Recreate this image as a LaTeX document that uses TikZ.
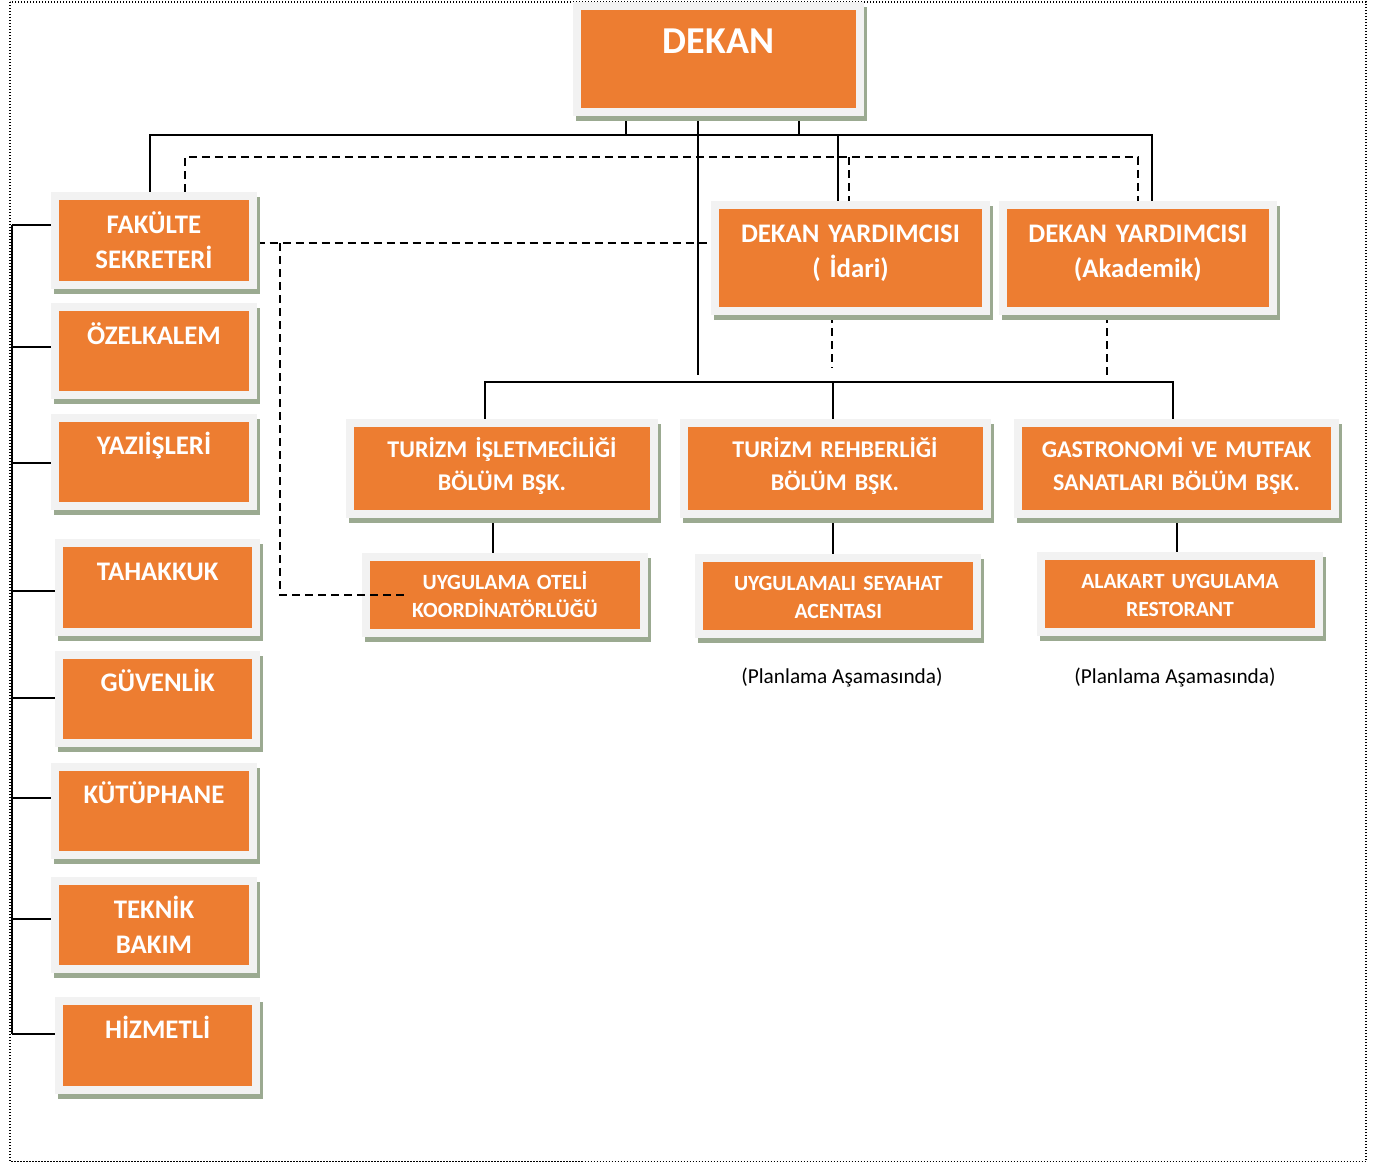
\documentclass[tikz,border=0pt]{standalone}
\usepackage{fontspec}
\setmainfont{Carlito}
\usetikzlibrary{backgrounds}
\definecolor{boxorange}{RGB}{237,125,49}
\definecolor{boxframe}{RGB}{242,242,242}
\definecolor{boxshadow}{RGB}{155,170,145}

\begin{document}
\begin{tikzpicture}[x=1pt, y=-1pt,
  orgbox/.style={rectangle, fill=boxorange, draw=boxframe, line width=8pt, inner sep=0pt,
    align=center, text=white,
    preaction={draw=boxshadow, fill=boxshadow, transform canvas={xshift=3pt,yshift=-5pt}}},
  topbox/.style={orgbox, text width=283pt, text height=47.3pt, text depth=58.7pt,
    font=\fontsize{38}{46}\selectfont\bfseries},
  staffbox/.style={orgbox, text width=197.4pt, text height=37pt, text depth=51.3pt,
    font=\fontsize{26.8}{35}\selectfont\bfseries},
  vicebox/.style={orgbox, text width=270.4pt, text height=37.4pt, text depth=68.6pt,
    font=\fontsize{26.8}{35}\selectfont\bfseries},
  deptbox/.style={orgbox, text height=34.3pt, text depth=56.7pt,
    font=\fontsize{24}{32.7}\selectfont\bfseries},
  labbox/.style={orgbox, text width=278pt, text height=32.5pt, text depth=43.5pt,
    font=\fontsize{21.7}{28.3}\selectfont\bfseries},
  note/.style={font=\fontsize{21.3}{25}\selectfont, inner sep=0pt},
  solidline/.style={line width=2pt},
  dashline/.style={line width=2pt, dash pattern=on 8pt off 5pt},
  pageframe/.style={line width=1.2pt, dash pattern=on 1.2pt off 1.8pt}
]
  \useasboundingbox (0,0) rectangle (1374,1163);
  \draw[pageframe] (10,2) rectangle (1366,1161.5);

  % top
  \node[topbox] (dekan) at (718.5,59) {DEKAN};

  % left column
  \foreach \n/\x/\y/\t in {fak/154/240.35/{FAKÜLTE\\SEKRETERİ}, ozel/154/351.15/ÖZELKALEM,
      yazi/154/461.7/YAZIİŞLERİ, tah/157.7/587.5/TAHAKKUK, guv/157.7/698.85/GÜVENLİK,
      kut/154/810.7/KÜTÜPHANE, tek/154/925.15/{TEKNİK\\BAKIM}, hiz/157.7/1045.5/HİZMETLİ}
    \node[staffbox] (\n) at (\x,\y) {\t};

  % vice deans
  \node[vicebox] (idari) at (850.5,258.3) {DEKAN YARDIMCISI\\( İdari)};
  \node[vicebox] (akad) at (1137.9,258.3) {DEKAN YARDIMCISI\\(Akademik)};

  % departments
  \node[deptbox, text width=304pt] (tis) at (502,468.5) {TURİZM İŞLETMECİLİĞİ\\BÖLÜM BŞK.};
  \node[deptbox, text width=303pt] (trb) at (835,468.5) {TURİZM REHBERLİĞİ\\BÖLÜM BŞK.};
  \node[deptbox, text width=317pt] (gas) at (1176.5,468.5) {GASTRONOMİ VE MUTFAK\\SANATLARI BÖLÜM BŞK.};

  % practice units
  \node[labbox] (otel) at (505,595) {UYGULAMA OTELİ\\KOORDİNATÖRLÜĞÜ};
  \node[labbox] (sey) at (838.3,595.5) {UYGULAMALI SEYAHAT\\ACENTASI};
  \node[labbox] (ala) at (1180,593.9) {ALAKART UYGULAMA\\RESTORANT};
  \node[note, anchor=base] (seyplan) at (842,683.3) {(Planlama Aşamasında)};
  \node[note, anchor=base] (alaplan) at (1175,683.3) {(Planlama Aşamasında)};

  \coordinate (topbus) at (0,135);
  \coordinate (dashbus) at (0,157);
  \coordinate (midbus) at (0,382);
  \coordinate (leftbus) at (12,0);
  \coordinate (fakdrop) at (280,0);
  \coordinate (dekanend) at (697.7,375);
  \coordinate (idariend) at (832,368);
  \coordinate (akadend) at (1107.3,375);

  \begin{scope}[on background layer]
    \draw[solidline] ([xshift=-4pt]fak.north) |- ([xshift=14pt]akad.north |- topbus)
      -- ([xshift=14pt]akad.north);
    \draw[solidline] ([xshift=-92.5pt]dekan.south) -- ([xshift=-92.5pt]dekan.south |- topbus);
    \draw[solidline] ([xshift=80.5pt]dekan.south) -- ([xshift=80.5pt]dekan.south |- topbus);
    \draw[solidline] ([xshift=-12.5pt]idari.north) -- ([xshift=-12.5pt]idari.north |- topbus);
    \draw[solidline] (dekan.south -| dekanend) -- (dekanend);

    \draw[dashline] ([xshift=31pt]fak.north) |- (akad.north |- dashbus) -- (akad.north);
    \draw[dashline] ([xshift=-1.5pt]idari.north |- dashbus) -- ([xshift=-1.5pt]idari.north);
    \draw[dashline] ([yshift=-3pt]fak.east) -- ([yshift=-3pt]fak.east -| idari.west);
    \draw[dashline] (idari.south -| idariend) -- (idariend);
    \draw[dashline] (akad.south -| akadend) -- (akadend);

    \draw[solidline] ([xshift=-17.5pt]tis.north) |- ([xshift=-4pt]gas.north |- midbus)
      -- ([xshift=-4pt]gas.north);
    \draw[solidline] ([xshift=-2pt]trb.north) -- ([xshift=-2pt]trb.north |- midbus);
    \draw[solidline] ([xshift=-9.3pt]tis.south) -- ([xshift=-9.3pt]tis.south |- otel.north);
    \draw[solidline] ([xshift=-1.7pt]trb.south) -- ([xshift=-1.7pt]trb.south |- sey.north);
    \draw[solidline] ([xshift=0.5pt]gas.south) -- ([xshift=0.5pt]gas.south |- ala.north);

    \draw[solidline] ([yshift=15pt]fak.west -| leftbus) -- ([yshift=12pt]hiz.west -| leftbus);
    \foreach \n/\dy in {fak/15, ozel/4, yazi/-1, tah/-3.5, guv/1, kut/13, tek/6, hiz/12}
      \draw[solidline] ([yshift=\dy pt]\n.west) -- ([yshift=\dy pt]\n.west -| leftbus);
  \end{scope}
  \draw[dashline] ([yshift=-3pt]fak.east -| fakdrop) |- ([xshift=42pt]otel.west);
\end{tikzpicture}
\end{document}
